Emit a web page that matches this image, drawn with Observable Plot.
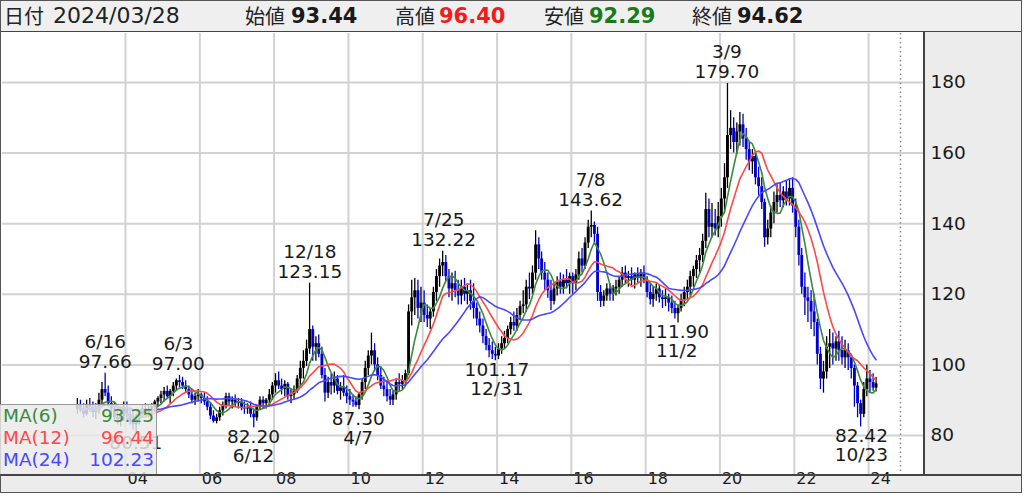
<!DOCTYPE html>
<html><head><meta charset="utf-8">
<script src="https://cdn.jsdelivr.net/npm/d3@7"></script>
<script src="https://cdn.jsdelivr.net/npm/@observablehq/plot@0.6"></script>
<style>
html,body{margin:0;padding:0;background:#fff;}
#wrap{position:relative;width:1024px;height:497px;overflow:hidden;font-family:"DejaVu Sans","Noto Sans CJK JP",sans-serif;color:#222;}
.abs{position:absolute;}
#frame{left:0;top:0;width:1020px;height:491px;border:1px solid #555;}
#header{left:1px;top:1px;width:1020px;height:30px;background:#efefef;border-bottom:1px solid #444;}
#header span{position:absolute;top:0;line-height:30px;white-space:nowrap;}
.hl{font-size:20px;font-family:"Noto Sans CJK JP","DejaVu Sans",sans-serif;}
.hd{font-size:22px;font-family:"DejaVu Sans",sans-serif;}
.hv{font-size:21px;font-weight:bold;}
#rightpanel{left:925px;top:32px;width:96px;height:442px;background:#ececec;}
#bottomstrip{left:1px;top:476px;width:1020px;height:16px;background:#ececec;}
#vline{left:923px;top:32px;width:2px;height:444px;background:#444;z-index:3;}
#hline{left:1px;top:474px;width:1020px;height:2px;background:#444;z-index:3;}
#chart{left:0;top:32px;z-index:2;}
#legend{left:0;top:404px;width:156px;height:69px;background:rgba(234,234,234,0.84);border-top:1px solid #999;border-right:1px solid #999;z-index:4;}
#legend div{position:relative;height:22px;line-height:22px;font-size:18.5px;}
#legend .n{position:absolute;left:3px;}
#legend .v{position:absolute;right:2px;}
</style></head>
<body>
<div id="wrap">
  <div id="frame" class="abs"></div>
  <div id="header" class="abs"></div>
  <div id="rightpanel" class="abs"></div>
  <div id="bottomstrip" class="abs"></div>
  <div id="chart" class="abs"></div>
  <div id="vline" class="abs"></div>
  <div id="hline" class="abs"></div>
  <div id="legend" class="abs"></div>
</div>
<script>
// ---------- header data ----------
const headerDate = "2024/03/28";
const headerNames = ["始値", "高値", "安値", "終値"];
const headerValues = [93.44, 96.40, 92.29, 94.62];
const headerColors = ["#1a1a1a", "#f01c1c", "#1a7a1a", "#1a1a1a"];

// ---------- monthly candles (Sep 2002 .. Mar 2024) ----------
const startYear = 2002, startMonth = 8; // September
const firstOpen = 87.5;
const closes = [
  88.5, 87, 86, 88.5,
  88, 86.5, 87, 90, 93, 92, 89, 87.5, 85, 84.5, 85.5, 88,
  86, 84, 83, 84.5, 86, 87.5, 86.5, 87.5, 88, 89.5, 90.5, 91.5,
  92.5, 91, 92.5, 94, 95.5, 95, 94, 93, 91.5, 90, 91, 91.5,
  90.5, 89.5, 88, 85.5, 84, 85, 87, 88.5, 91, 89.5, 90, 89,
  89.5, 88, 87.5, 88, 86, 85, 88, 90, 89, 90, 91.5, 94,
  95.5, 94, 93, 94.5, 91, 91.5, 92.5, 96, 99, 101, 104.5, 110,
  105, 106, 103, 97, 92, 95, 94, 96, 92.5, 93.5, 92, 91,
  90, 89.5, 88.5, 91.5, 95, 99, 102.5, 104, 100, 97, 94, 93,
  91, 90, 91.5, 95, 94.5, 95.5, 97.5, 115, 119, 121, 116, 117.5,
  114, 113, 115, 120.5, 125, 128, 129, 125, 121.5, 123, 121, 119.5,
  122, 120, 121, 118, 116, 113, 111, 108, 105.5, 104, 103, 102.5,
  104.5, 106, 107.5, 110, 112, 111, 114, 116.5, 117, 122, 121.5, 126,
  134, 130, 126, 124, 121, 118, 121.5, 123.5, 122, 124, 123, 125,
  123, 125.5, 130, 128, 134.5, 139, 139.5, 137, 120.5, 118, 119.5, 121.5,
  120, 121.5, 122, 124, 126, 124.5, 125, 124, 125.5, 124.5, 126, 124,
  120.5, 118.5, 120, 121.5, 119, 118.5, 119, 117.5, 116, 114.5, 116, 118.5,
  120.5, 122, 125, 127, 129.5, 131, 135, 144, 139, 140, 138.5, 142,
  147, 153, 165, 167, 163, 166, 168, 164, 161, 157.5, 159, 153,
  150.5, 146, 136, 138.5, 143, 146, 148, 146.5, 149, 147, 150, 145,
  139, 131, 122, 119, 118, 115, 112, 103, 96, 98, 105, 106,
  104.5, 106.5, 104, 102, 104, 102, 99, 94, 89, 86, 93, 96,
  95, 93.44, 94.62
];
const highs = [
  90.5, 90, 89, 90,
  90.5, 89.5, 89, 92, 95, 97.66, 94, 91, 89.5, 88, 87, 89.5,
  89.5, 88, 87, 86, 87, 88.5, 89, 88.5, 89, 90, 91, 92.5,
  93.6, 94, 93, 95, 96, 97.00, 96.5, 95.5, 94, 93, 92, 93,
  92, 92, 91, 89, 87, 86, 88, 89.5, 92, 92, 91, 91.5,
  90.5, 90.5, 89.5, 89, 89.5, 87.5, 88.5, 91, 91, 90.5, 93, 95,
  97.5, 98, 96, 95.5, 95, 93, 94, 97, 101, 104, 107, 123.15,
  111, 108, 108.5, 105, 99, 96.5, 97.5, 98, 97, 95, 97, 94,
  93, 91.5, 91, 92, 96, 101, 104, 109, 106, 102, 99.5, 96.5,
  95, 93, 92.5, 96, 97.5, 97, 98.5, 117, 124, 124.5, 124, 122,
  121, 117, 116, 122, 127, 130, 132.22, 131, 127, 126, 126.5, 124,
  124, 124.5, 123, 124, 123, 117.5, 115, 113, 110, 107.5, 106.5, 105,
  106, 108, 109.5, 111, 113.5, 115, 116, 118, 121, 124, 126, 128,
  138, 136, 132, 129, 126, 124, 123, 125, 126, 125.5, 127, 126,
  126, 127, 132, 133, 136, 141, 143.62, 140.5, 139, 122.5, 121, 123,
  123, 122.5, 124, 125, 127.6, 128, 126.5, 127.5, 126, 127.5, 127, 128,
  125, 123, 122, 123, 122.5, 121, 121.5, 120, 119.5, 118, 117, 120,
  122, 124, 126.5, 128, 131, 133, 137, 148.6, 147, 145.7, 144, 146,
  150, 157, 179.70, 172, 170, 168.5, 171.5, 171, 167, 163, 161, 160,
  156, 153, 147, 141, 145, 149, 151, 151.5, 150.5, 152, 152.5, 153,
  147, 141, 133, 126, 122, 121, 120, 113, 105, 101, 108, 110,
  109, 108, 109.5, 108, 107, 106, 103, 100, 95, 90, 95, 100,
  98.4, 97.5, 96.40
];
const lows = [
  86, 86.5, 85, 85.5,
  86.5, 85, 84.5, 86, 88.5, 91, 88, 86, 84, 83, 82.5, 84,
  84.5, 83, 81.5, 80.51, 83, 85, 85.5, 85, 86, 86.5, 88, 89,
  89.5, 90.5, 89, 91, 92.5, 93.5, 93, 92, 90.5, 89, 88.5, 89.5,
  89, 88.5, 87, 84.5, 83.5, 83.3, 84, 85.5, 87.5, 88.5, 87.5, 88,
  87.5, 87, 86, 86, 85, 82.20, 84, 87, 87.5, 87.5, 88.5, 90,
  92, 93, 91.5, 91, 90, 89, 90, 92, 94, 96, 99.5, 103,
  101, 101, 102, 96, 89.5, 90.5, 91.5, 92, 91.5, 90, 91, 89,
  88.5, 88, 88, 87.30, 90, 93, 97, 100, 98, 95.5, 93, 91,
  89.5, 88.5, 88.5, 90, 92.5, 93, 94, 97, 111, 114, 113, 112,
  112, 110.6, 110, 113.5, 118, 122, 125, 123.5, 119, 118, 119, 117,
  117, 118, 117, 115.5, 113, 111, 109, 106, 104, 102, 101.5, 101.17,
  101.5, 103, 104.5, 106, 108.5, 109.5, 109.5, 112.5, 114.5, 115, 118.5, 120,
  124, 127, 124, 121, 118.9, 115.4, 117, 119.5, 120, 120, 121.5, 120,
  120, 121, 124, 126, 127, 133, 136, 134, 118, 116.3, 116.5, 118,
  118, 118, 119.5, 120, 122, 123, 122, 122.5, 121.5, 123, 122, 123,
  119, 117, 116.3, 118, 117.5, 116, 116.5, 115, 114.5, 113, 111.90, 115,
  116.5, 118.5, 119.5, 122, 124.5, 126, 129, 133, 136, 136, 136.5, 136,
  139, 143, 150, 161, 160, 159.5, 162, 161.6, 158, 155, 154, 151,
  148, 144, 133.3, 134, 136, 140, 143, 144.6, 144.5, 145, 145, 143,
  136, 128, 120, 114, 112, 110, 108, 100, 93, 92, 96, 99,
  100, 101, 101, 100, 99, 98.4, 96, 88, 85, 82.42, 85, 91,
  92, 92.5, 92.29
];

// ---------- moving averages ----------
const maPeriods = [6, 12, 24];
const maNames = ["MA(6)", "MA(12)", "MA(24)"];
const maColors = ["#3a8a3a", "#ff4848", "#4848ff"];
const maLast = [93.25, 96.44, 102.23];

// ---------- annotations ----------
const highDates = ["2003-06-16", "2005-06-03", "2008-12-18", "2012-07-25", "2016-07-08", "2020-03-09"];
const highValues = [97.66, 97.00, 123.15, 132.22, 143.62, 179.70];
const highLabels = ["6/16", "6/3", "12/18", "7/25", "7/8", "3/9"];
const lowDates = ["2004-04-12", "2007-06-12", "2010-04-07", "2013-12-31", "2018-11-02", "2023-10-23"];
const lowValues = [80.51, 82.20, 87.30, 101.17, 111.90, 82.42];
const lowLabels = ["", "6/12", "4/7", "12/31", "11/2", "10/23"];

// ---------- axes ----------
const yTicks = [80, 100, 120, 140, 160, 180];
const xTickYears = [2004, 2006, 2008, 2010, 2012, 2014, 2016, 2018, 2020, 2022, 2024];
const futureLineDate = "2024-11-10";
const xDomain = [new Date(Date.UTC(2000, 8, 9)), new Date(Date.UTC(2025, 6, 4))];
const yDomain = [68.95, 193.88];

// ---------- header ----------
const header = document.getElementById("header");
function span(text, left, cls, color) {
  const s = document.createElement("span");
  s.textContent = text; s.className = cls; s.style.left = left + "px";
  if (color) s.style.color = color;
  header.appendChild(s);
}
span("日付", 3, "hl");
span(headerDate, 52, "hd");
const nameLefts = [244, 394, 543, 691], valLefts = [290, 438, 588, 736];
headerNames.forEach((n, i) => {
  span(n, nameLefts[i], "hl");
  span(headerValues[i].toFixed(2), valLefts[i], "hv", headerColors[i]);
});

// ---------- legend ----------
const legend = document.getElementById("legend");
maNames.forEach((n, i) => {
  const row = document.createElement("div");
  row.innerHTML = `<span class="n" style="color:${maColors[i]}">${n}</span><span class="v" style="color:${maColors[i]}">${maLast[i].toFixed(2)}</span>`;
  legend.appendChild(row);
});

// ---------- build candle table ----------
const candles = closes.map((c, i) => ({
  date: new Date(Date.UTC(startYear, startMonth + i, 15)),
  open: i ? closes[i - 1] : firstOpen,
  high: highs[i], low: lows[i], close: c
}));
candles.forEach(d => d.color = d.close >= d.open ? "#000000" : "#0000cc");

const highAnn = highDates.map((d, i) => ({date: new Date(d), value: highValues[i], label: highLabels[i]}));
const lowAnn = lowDates.map((d, i) => ({date: new Date(d), value: lowValues[i], label: lowLabels[i]}));
const xTicks = xTickYears.map(y => new Date(Date.UTC(y, 0, 1)));

const txt = {fontSize: 18.5, fill: "#1a1a1a"};

const chart = Plot.plot({
  width: 1024, height: 465,
  marginLeft: 2, marginRight: 100, marginTop: 1, marginBottom: 23,
  x: {type: "utc", domain: xDomain, axis: null},
  y: {domain: yDomain, axis: null},
  style: {fontFamily: "'DejaVu Sans', sans-serif", background: "transparent", overflow: "visible"},
  marks: [
    Plot.frame({fill: "white", stroke: "none"}),
    Plot.ruleY(yTicks, {y: d => d, stroke: "#d2d2d2", strokeWidth: 2}),
    Plot.ruleX(xTicks, {x: d => d, stroke: "#d2d2d2", strokeWidth: 2}),
    Plot.ruleX([new Date(futureLineDate)], {x: d => d, stroke: "#888", strokeWidth: 1.5, strokeDasharray: "1.5,3"}),
    Plot.ruleX(candles, {x: "date", y1: "low", y2: "high", stroke: "color", strokeWidth: 1.3}),
    Plot.ruleX(candles, {x: "date", y1: "open", y2: "close", stroke: "color", strokeWidth: 2.9}),
    ...maPeriods.map((k, i) => Plot.lineY(candles, Plot.windowY({k, anchor: "end"}, {x: "date", y: "close", stroke: maColors[i], strokeWidth: 1.6}))),
    Plot.text(highAnn, {x: "date", y: "value", text: d => d.value.toFixed(2), dy: -11, ...txt}),
    Plot.text(highAnn, {x: "date", y: "value", text: "label", dy: -31, ...txt}),
    Plot.text(lowAnn, {x: "date", y: "value", text: d => d.value.toFixed(2), dy: 9, ...txt}),
    Plot.text(lowAnn, {x: "date", y: "value", text: "label", dy: 28, ...txt}),
    Plot.text(yTicks, {y: d => d, frameAnchor: "right", dx: 6, textAnchor: "start", text: d => String(d), fontSize: 18.5, fill: "#1a1a1a"}),
    Plot.text(xTicks, {x: d => d, frameAnchor: "bottom", dy: 9, dx: 2, textAnchor: "start", text: d => d3.utcFormat("%y")(d), fontSize: 16, fill: "#1a1a1a"})
  ]
});
document.getElementById("chart").appendChild(chart);
</script>
</body></html>
